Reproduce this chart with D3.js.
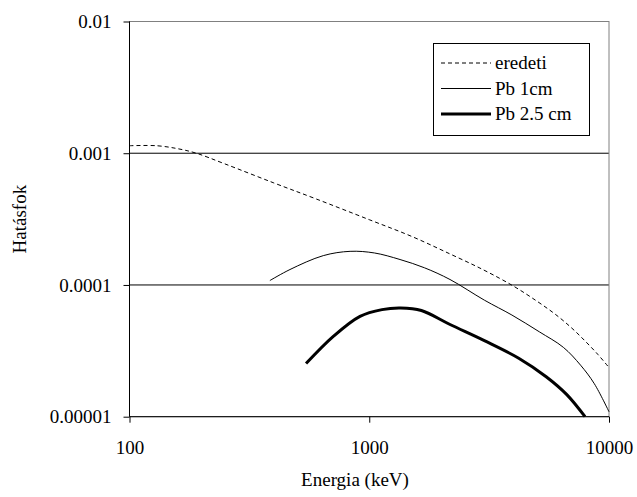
<!DOCTYPE html>
<html>
<head>
<meta charset="utf-8">
<script src="https://cdn.jsdelivr.net/npm/d3@7"></script>
<style>
  body { margin: 0; background: #fff; }
  svg text { fill: #000; }
</style>
</head>
<body>
<svg id="chart" width="637" height="497"></svg>
<script>
// values (energy in keV, efficiency)
const eredetiE = [100, 130, 160, 190, 250, 400, 600, 1000, 1500, 2172, 3000, 4000, 5000, 6000, 7000, 8000, 9000, 10000];
const eredetiV = [0.00114, 0.00114, 0.00108, 0.001, 0.00083, 0.000595, 0.00045, 0.000313, 0.000234, 0.000172, 0.00013, 0.0000979, 0.0000754, 0.0000595, 0.000047, 0.0000371, 0.0000296, 0.0000236];

const pb1E = [385, 467, 643, 832, 1050, 1344, 1700, 2172, 3021, 3936, 5121, 6453, 7612, 8685, 10000];
const pb1V = [0.000108, 0.000131, 0.000167, 0.00018, 0.000175, 0.000156, 0.000135, 0.00011, 0.0000767, 0.0000591, 0.0000441, 0.0000336, 0.0000246, 0.0000178, 0.0000109];

const pb25E = [545, 708, 915, 1130, 1350, 1650, 2172, 3021, 4202, 5470, 6668, 7943];
const pb25V = [0.0000253, 0.0000407, 0.0000578, 0.0000650, 0.0000668, 0.0000640, 0.0000501, 0.0000378, 0.0000278, 0.0000201, 0.0000147, 0.00001];

const xTicks = [100, 1000, 10000];
const yTicks = [0.00001, 0.0001, 0.001, 0.01];
const yTickLabels = ["0.00001", "0.0001", "0.001", "0.01"];
const seriesNames = ["eredeti", "Pb 1cm", "Pb 2.5 cm"];

const plot = { left: 129.5, right: 609, top: 21.5, bottom: 416.7 };
const fontSize = 19;
const fontFamily = "'Liberation Serif', Tinos, 'Times New Roman', 'DejaVu Serif', serif";

const svg = d3.select("#chart");

const x = d3.scaleLog()
	.domain([100, 10000])
	.range([plot.left, plot.right]);

const y = d3.scaleLog()
	.domain([0.00001, 0.01])
	.range([plot.bottom, plot.top]);

// gridlines at inner decades
svg.append("g")
	.selectAll("line")
	.data(yTicks.slice(1, 3))
	.join("line")
	.attr("x1", plot.left)
	.attr("x2", plot.right)
	.attr("y1", (d) => y(d))
	.attr("y2", (d) => y(d))
	.attr("stroke", "#000")
	.attr("stroke-width", 1);

// plot area border (gray)
svg.append("rect")
	.attr("x", plot.left)
	.attr("y", plot.top)
	.attr("width", plot.right - plot.left)
	.attr("height", plot.bottom - plot.top)
	.attr("fill", "none")
	.attr("stroke", "#808080")
	.attr("stroke-width", 1);

// series
const series = [
	{ name: seriesNames[0], e: eredetiE, v: eredetiV, width: 1, dash: "4,3" },
	{ name: seriesNames[1], e: pb1E, v: pb1V, width: 1, dash: null },
	{ name: seriesNames[2], e: pb25E, v: pb25V, width: 3, dash: null }
];

const line = d3.line()
	.x((d) => x(d[0]))
	.y((d) => y(d[1]))
	.curve(d3.curveCatmullRom.alpha(0.5));

svg.append("g")
	.selectAll("path")
	.data(series)
	.join("path")
	.attr("d", (s) => line(d3.zip(s.e, s.v)))
	.attr("fill", "none")
	.attr("stroke", "#000")
	.attr("stroke-width", (s) => s.width)
	.attr("stroke-dasharray", (s) => s.dash);

// axes
const xAxis = d3.axisBottom(x)
	.tickValues(xTicks)
	.tickFormat(d3.format("d"))
	.tickSize(6)
	.tickPadding(18);

const xAxisG = svg.append("g")
	.attr("transform", `translate(0,${plot.bottom})`)
	.call(xAxis);

const yAxis = d3.axisLeft(y)
	.tickValues(yTicks)
	.tickFormat((d, i) => yTickLabels[i])
	.tickSize(6)
	.tickPadding(12);

const yAxisG = svg.append("g")
	.attr("transform", `translate(${plot.left},0)`)
	.call(yAxis);

[xAxisG, yAxisG].forEach((g) => {
	g.attr("font-family", null).attr("font-size", null);
	g.select(".domain").attr("stroke", "#000").attr("stroke-width", 1);
	g.selectAll(".tick line").attr("stroke", "#000");
	g.selectAll(".tick text")
		.attr("fill", "#000")
		.style("font-family", fontFamily)
		.style("font-size", fontSize + "px");
});
xAxisG.select(".domain").attr("d", `M${plot.left},0H${plot.right}`);
yAxisG.select(".domain").attr("d", `M0,${plot.bottom}V${plot.top}`);

// axis titles
svg.append("text")
	.attr("x", 355)
	.attr("y", 486)
	.attr("text-anchor", "middle")
	.style("font-family", fontFamily)
	.style("font-size", fontSize + "px")
	.text("Energia (keV)");

svg.append("text")
	.attr("transform", `translate(26,${(plot.top + plot.bottom) / 2}) rotate(-90)`)
	.attr("text-anchor", "middle")
	.style("font-family", fontFamily)
	.style("font-size", fontSize + "px")
	.text("Hatásfok");

// legend
const legend = svg.append("g");
legend.append("rect")
	.attr("x", 433.5)
	.attr("y", 43.5)
	.attr("width", 156)
	.attr("height", 92)
	.attr("fill", "#fff")
	.attr("stroke", "#000")
	.attr("stroke-width", 1);

const rows = legend.selectAll("g.row")
	.data(series)
	.join("g")
	.attr("class", "row")
	.attr("transform", (d, i) => `translate(0,${63 + i * 25.5})`);

rows.append("line")
	.attr("x1", 441)
	.attr("x2", 491)
	.attr("y1", 0)
	.attr("y2", 0)
	.attr("stroke", "#000")
	.attr("stroke-width", (s) => s.width)
	.attr("stroke-dasharray", (s) => s.dash);

rows.append("text")
	.attr("x", 495)
	.attr("y", 6)
	.style("font-family", fontFamily)
	.style("font-size", fontSize + "px")
	.text((s) => s.name);
</script>
</body>
</html>
